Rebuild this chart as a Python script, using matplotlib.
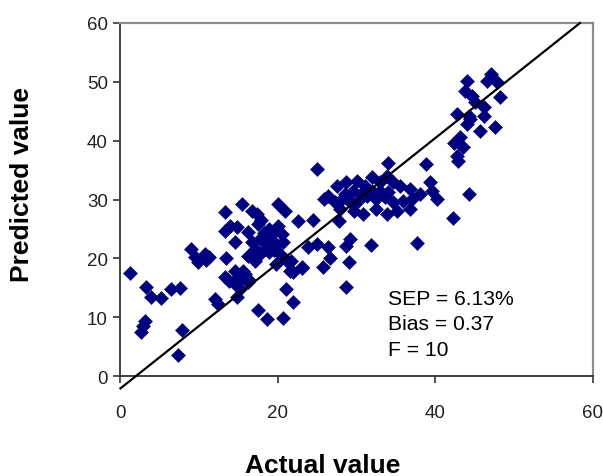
import matplotlib
matplotlib.use("Agg")
import matplotlib.pyplot as plt

plt.rcParams['font.family'] = ['Liberation Sans', 'DejaVu Sans']

# actual vs predicted
actual = [1.2, 3.3, 3.9, 5.2, 6.4, 7.6, 3.1, 2.9, 2.6, 7.8, 7.3,
          9.0, 9.5, 9.9, 10.7, 11.2, 10.9, 12.0, 12.4,
          13.3, 13.3, 13.4, 13.3, 13.8, 14.3, 14.8, 15.2, 15.6, 16.2, 15.2, 16.2, 15.8,
          15.6, 14.5, 17.5, 18.6, 20.6, 21.0, 21.9, 21.9, 21.5, 23.1, 25.7, 26.6,
          26.4, 24.9, 23.8, 22.6, 24.4, 28.6, 28.7, 29.0, 21.1, 19.8,
          15.4, 16.7, 17.3, 20.0, 20.9, 13.9, 14.8, 14.5, 16.2, 17.5, 18.8, 20.0, 20.5,
          16.7, 17.7, 19.0, 17.1, 18.3, 19.8, 20.7, 16.2, 17.5, 18.8, 20.3, 17.1, 21.7,
          23.0, 18.2, 19.4, 18.5, 19.5, 17.8,
          24.9, 34.0, 38.8, 26.4, 27.5, 28.7, 30.0, 31.0, 31.9, 33.0, 33.8, 34.6, 35.5,
          36.8, 25.8, 27.2, 28.1, 29.1, 30.2, 31.3, 32.5, 33.6, 34.6, 35.9, 37.0, 27.9,
          29.6, 30.8, 32.5, 33.8, 35.1, 36.8, 27.7, 29.1, 31.8, 37.7, 42.2, 38.0,
          39.3, 39.5, 40.2, 44.2, 29.5, 32.0, 30.5, 33.0, 34.0, 28.5,
          47.1, 46.5, 47.8, 44.0, 43.7, 44.6, 48.2, 45.0, 46.1, 42.7, 44.2, 46.1, 44.0,
          45.7, 47.6, 43.1, 42.3, 43.5, 42.9, 42.7, 44.4]
predicted = [17.5, 15.2, 13.5, 13.2, 14.8, 15.0, 9.4, 8.5, 7.4, 7.8, 3.6,
             21.6, 20.2, 19.3, 20.7, 20.2, 19.8, 13.1, 12.2,
             27.8, 24.7, 20.1, 16.8, 16.1, 15.9, 13.4, 14.8, 17.0, 16.5, 16.5, 15.9, 17.3,
             17.9, 17.9, 11.3, 9.7, 9.8, 14.8, 12.5, 17.6, 17.9, 18.4, 18.6, 20.0,
             21.9, 22.4, 21.9, 26.4, 26.6, 15.1, 22.1, 19.4, 19.6, 19.0,
             29.2, 28.1, 27.5, 29.2, 28.1, 25.5, 25.3, 22.7, 24.4, 25.8, 25.0, 25.5, 24.1,
             22.7, 23.3, 23.8, 21.6, 21.6, 22.4, 22.7, 20.4, 20.4, 21.0, 20.7, 19.6, 19.6,
             18.5, 24.3, 24.6, 22.6, 21.5, 26.6,
             35.2, 36.2, 36.0, 30.6, 32.3, 32.9, 33.2, 32.3, 33.8, 32.9, 34.0, 32.9, 32.3,
             31.8, 30.1, 29.5, 30.1, 29.5, 29.8, 30.6, 30.1, 30.4, 29.5, 29.8, 30.1, 28.4,
             28.1, 27.5, 28.4, 27.5, 28.1, 28.4, 26.4, 23.3, 22.2, 22.6, 26.8, 30.9,
             32.9, 31.5, 30.1, 30.9, 31.5, 31.5, 31.0, 31.5, 31.2, 31.0,
             51.3, 50.2, 49.9, 50.2, 48.5, 47.6, 47.4, 46.5, 45.7, 44.5, 44.2, 44.2, 42.8,
             41.7, 42.3, 40.6, 39.6, 38.9, 36.6, 37.4, 43.7]

# fitted line end points
fit_x = [0.0, 58.35]
fit_y = [-2.1, 60.0]

stats_text = "SEP = 6.13%\nBias = 0.37\nF = 10"

fig = plt.figure(figsize=(6.03, 4.77), dpi=100)
ax = fig.add_axes([0.1998, 0.2096, 0.7836, 0.7401])

ax.plot(actual, predicted, linestyle='none', marker='D', ms=6.7,
        color='#000080', mec='#000080', mew=0.4, zorder=3)
ax.plot(fit_x, fit_y, color='black', lw=1.6, clip_on=False, zorder=4)

ax.set_xlim(0, 60)
ax.set_ylim(0, 60)
ax.set_xticks([0, 20, 40, 60])
ax.set_yticks([0, 10, 20, 30, 40, 50, 60])

for side in ['left', 'bottom']:
    ax.spines[side].set_color('#333333')
    ax.spines[side].set_linewidth(1.3)
for side in ['top', 'right']:
    ax.spines[side].set_color('#8c8c8c')
    ax.spines[side].set_linewidth(1.6)

ax.tick_params(axis='x', direction='out', length=5, width=1.2, color='#333333',
               labelsize=13.5, labelcolor='#222222', pad=15)
ax.tick_params(axis='y', direction='out', length=5, width=1.2, color='#333333',
               labelsize=13.5, labelcolor='#222222', pad=4)

fig.text(388 / 603, 1 - 290 / 477, stats_text, fontsize=15.2, va='top', ha='left',
         linespacing=1.42, color='black')

fig.text(323 / 603, 1 - 466 / 477, 'Actual value', fontsize=19, fontweight='bold',
         ha='center', va='center')
fig.text(22 / 603, 1 - 185 / 477, 'Predicted value', fontsize=19, fontweight='bold',
         ha='center', va='center', rotation=90)

fig.savefig('out.png', dpi=100)
